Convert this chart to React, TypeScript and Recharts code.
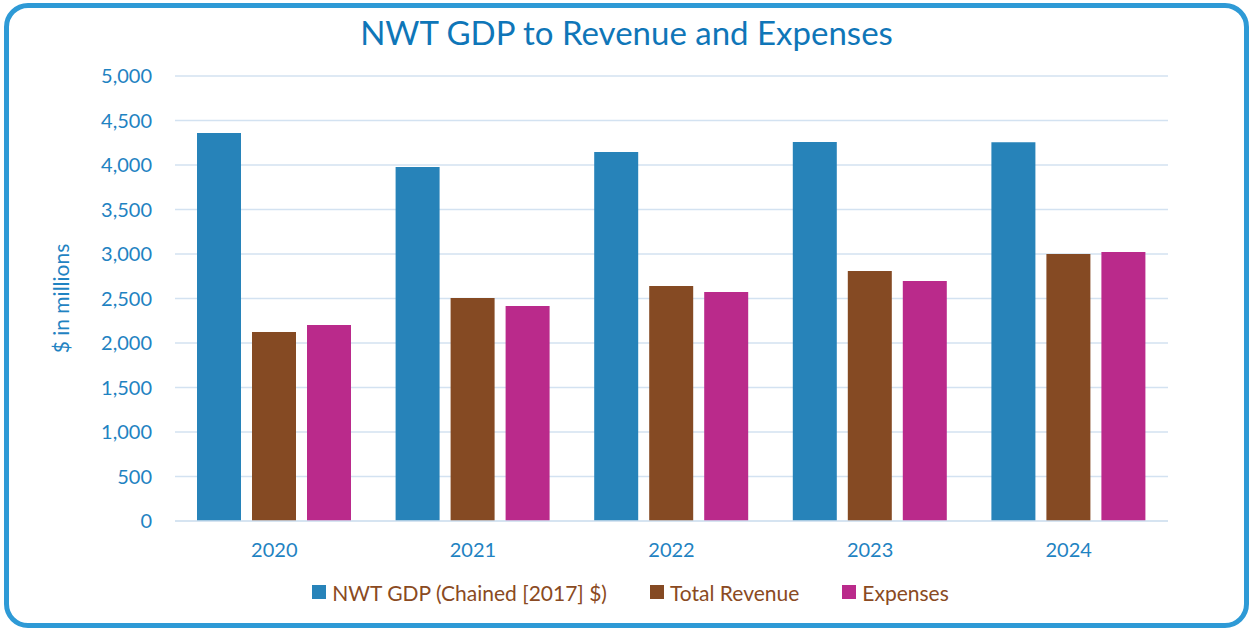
import React from "react";
import {
  BarChart,
  Bar,
  XAxis,
  YAxis,
  CartesianGrid,
  Legend,
  Label,
} from "recharts";

const years = ["2020", "2021", "2022", "2023", "2024"];
const gdp = [4360, 3978, 4146, 4258, 4255];
const revenue = [2124, 2506, 2640, 2809, 3000];
const expenses = [2202, 2416, 2573, 2697, 3022];
const yTicks = [0, 500, 1000, 1500, 2000, 2500, 3000, 3500, 4000, 4500, 5000];
const seriesNames = ["NWT GDP (Chained [2017] $)", "Total Revenue", "Expenses"];

const data = years.map((year, i) => ({
  year,
  gdp: gdp[i],
  revenue: revenue[i],
  expenses: expenses[i],
}));

const FONT = "Lato, 'Open Sans', sans-serif";
const AXIS_BLUE = "#1f83c2";

const renderLegend = (props: any) => {
  // keep the series order, Recharts sorts legend items by name
  const items = [...(props.payload || [])].sort(
    (a: any, b: any) => seriesNames.indexOf(a.value) - seriesNames.indexOf(b.value)
  );
  return (
    <div
      style={{
        display: "flex",
        justifyContent: "center",
        alignItems: "center",
        gap: 43,
        fontFamily: FONT,
        fontSize: 21,
        color: "#8a4a22",
        height: 26,
        paddingLeft: 58,
      }}
    >
      {items.map((entry: any) => (
        <div key={entry.value} style={{ display: "flex", alignItems: "center" }}>
          <span
            style={{
              display: "inline-block",
              width: 14,
              height: 14,
              background: entry.color,
              marginRight: 6,
            }}
          />
          <span>{entry.value}</span>
        </div>
      ))}
    </div>
  );
};

export default function App() {
  return (
    <div
      style={{
        position: "absolute",
        left: 0,
        top: 0,
        width: 1253,
        height: 631,
        background: "#fff",
        overflow: "hidden",
      }}
    >
      <div
        style={{
          position: "absolute",
          left: 4,
          top: 3,
          width: 1235,
          height: 615,
          border: "5px solid #2e9ad6",
          borderRadius: 24,
        }}
      />
      <div
        style={{
          position: "absolute",
          left: 0,
          top: 12,
          width: 1253,
          textAlign: "center",
          fontFamily: FONT,
          fontSize: 33,
          color: "#0f76b8",
          lineHeight: "40px",
        }}
      >
        NWT GDP to Revenue and Expenses
      </div>
      <div style={{ position: "absolute", left: 0, top: 0 }}>
        <BarChart
          width={1253}
          height={631}
          data={data}
          margin={{ top: 76, right: 85, left: 35, bottom: 26 }}
          barSize={44}
          barGap={11}
        >
          <CartesianGrid vertical={false} stroke="#d3e2f1" strokeWidth={1.5} />
          <XAxis
            dataKey="year"
            height={58}
            axisLine={{ stroke: "#d3e2f1", strokeWidth: 1.5 }}
            tickLine={false}
            tickSize={0}
            tickMargin={22}
            tick={{ fill: AXIS_BLUE, fontSize: 20, fontFamily: FONT }}
          />
          <YAxis
            width={140}
            domain={[0, 5000]}
            ticks={yTicks}
            axisLine={false}
            tickLine={false}
            tickSize={0}
            tickMargin={23}
            tickFormatter={(v: number) => v.toLocaleString("en-US")}
            tick={{ fill: AXIS_BLUE, fontSize: 20, fontFamily: FONT }}
          >
            <Label
              value="$ in millions"
              angle={-90}
              position="insideLeft"
              offset={27}
              style={{
                fill: AXIS_BLUE,
                fontSize: 21,
                fontFamily: FONT,
                textAnchor: "middle",
              }}
            />
          </YAxis>
          <Legend verticalAlign="bottom" content={renderLegend} />
          <Bar
            dataKey="gdp"
            name={seriesNames[0]}
            fill="#2783b9"
            isAnimationActive={false}
          />
          <Bar
            dataKey="revenue"
            name={seriesNames[1]}
            fill="#854a23"
            isAnimationActive={false}
          />
          <Bar
            dataKey="expenses"
            name={seriesNames[2]}
            fill="#ba2a8b"
            isAnimationActive={false}
          />
        </BarChart>
      </div>
    </div>
  );
}
